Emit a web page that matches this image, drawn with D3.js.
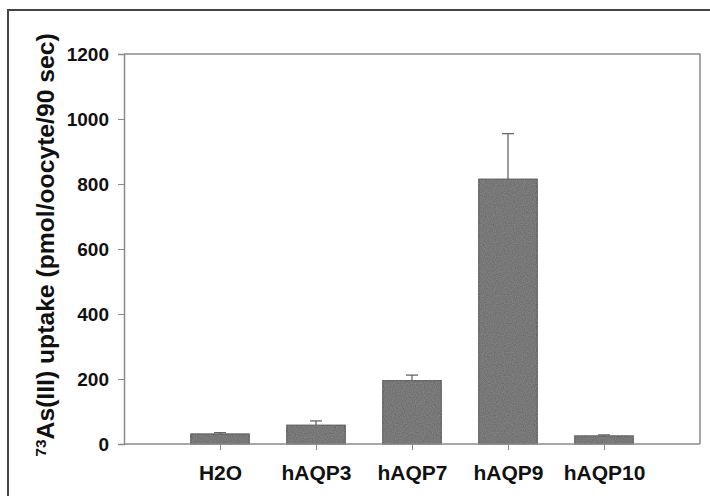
<!DOCTYPE html>
<html><head><meta charset="utf-8">
<script src="https://cdn.jsdelivr.net/npm/d3@7"></script>
<style>
html,body{margin:0;padding:0;background:#fff;}
svg text{font-family:"Liberation Sans",Arial,Helvetica,sans-serif;font-weight:bold;fill:#111;}
</style></head>
<body><svg id="c" width="710" height="496"></svg>
<script>
const categories = ["H2O","hAQP3","hAQP7","hAQP9","hAQP10"];
const values = [31, 58, 195, 815, 25];
const errors = [4, 13, 17, 140, 3];
const yTicks = [0,200,400,600,800,1000,1200];

const svg = d3.select("#c");
const L=124, R=700, T=54, B=444;
const x = d3.scalePoint().domain(categories).range([L,R]).padding(1);
const y = d3.scaleLinear().domain([0,1200]).range([B,T]);
const bw = x.step()*0.61;

// outer border
svg.append("path").attr("d",`M8,496V10H710`).attr("fill","none").attr("stroke","#444").attr("stroke-width",2);

// speckle filter for bars
const defs = svg.append("defs");
const f = defs.append("filter").attr("id","speck");
f.append("feTurbulence").attr("type","fractalNoise").attr("baseFrequency",0.9).attr("numOctaves",1).attr("result","n");
f.append("feColorMatrix").attr("in","n").attr("type","matrix")
 .attr("values","0 0 0 0 0.40  0 0 0 0 0.40  0 0 0 0 0.40  0.6 0 0 0 -0.1").attr("result","m");
f.append("feComposite").attr("in","m").attr("in2","SourceGraphic").attr("operator","in").attr("result","c");
f.append("feMerge").call(m=>{m.append("feMergeNode").attr("in","SourceGraphic");m.append("feMergeNode").attr("in","c");});

// frame top & right
svg.append("path").attr("d",`M${L},${T}H${R}V${B}`).attr("fill","none").attr("stroke","#8a8a8a").attr("stroke-width",1.5);

// bars
svg.append("g").selectAll("rect").data(categories).join("rect")
  .attr("x",d=>x(d)-bw/2).attr("width",bw)
  .attr("y",(d,i)=>y(values[i])).attr("height",(d,i)=>y(0)-y(values[i]))
  .attr("fill","#676767").attr("stroke","#3a3a3a").attr("stroke-width",1)
  .attr("filter","url(#speck)");

// error bars (upper only)
const eg = svg.append("g").attr("stroke","#666").attr("stroke-width",1.3);
categories.forEach((c,i)=>{
  eg.append("line").attr("x1",x(c)).attr("x2",x(c)).attr("y1",y(values[i])).attr("y2",y(values[i]+errors[i]));
  eg.append("line").attr("x1",x(c)-6).attr("x2",x(c)+6).attr("y1",y(values[i]+errors[i])).attr("y2",y(values[i]+errors[i]));
});

// y axis
const ya = svg.append("g").attr("transform",`translate(${L},0)`)
  .call(d3.axisLeft(y).tickValues(yTicks).tickSize(6).tickPadding(9).tickFormat(d3.format("d")));
ya.attr("font-size",null).attr("font-family",null);
ya.select(".domain").attr("stroke","#8a8a8a").attr("stroke-width",1.5);
ya.selectAll(".tick line").attr("stroke","#8a8a8a");
ya.selectAll("text").style("font-size","19px").attr("fill","#111");

// x axis
const xa = svg.append("g").attr("transform",`translate(0,${B})`)
  .call(d3.axisBottom(x).tickSize(6).tickPadding(15).tickSizeOuter(0));
xa.attr("font-size",null).attr("font-family",null);
xa.select(".domain").attr("d",`M${L},0H${R}`).attr("stroke","#8a8a8a").attr("stroke-width",1.5);
xa.selectAll(".tick line").attr("stroke","#8a8a8a");
xa.selectAll("text").style("font-size","21px").attr("fill","#111");

// y title
const t = svg.append("text").attr("transform",`translate(54,245) rotate(-90)`)
  .attr("text-anchor","middle").style("font-size","24.7px");
t.append("tspan").text("73").style("font-size","15.5px").attr("dy","-8");
t.append("tspan").text("As(III) uptake (pmol/oocyte/90 sec)").attr("dy","8");
</script></body></html>
